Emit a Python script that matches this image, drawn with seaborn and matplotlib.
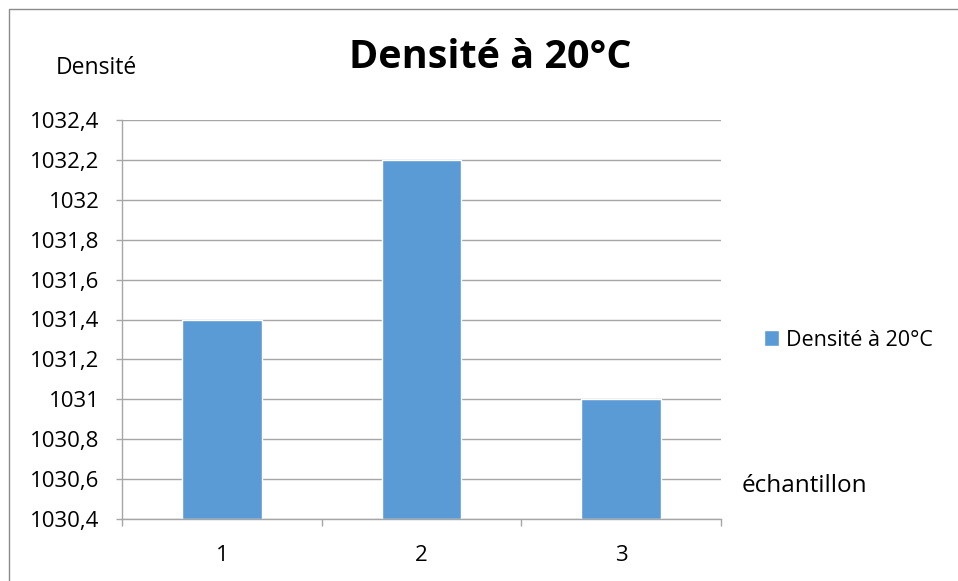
import matplotlib
matplotlib.use("Agg")
import matplotlib.pyplot as plt
import seaborn as sns
import pandas as pd
from matplotlib.ticker import FixedLocator, FuncFormatter
from matplotlib.lines import Line2D

echantillons = ["1", "2", "3"]
densites = [1031.4, 1032.2, 1031.0]
y_ticks = [1030.4, 1030.6, 1030.8, 1031.0, 1031.2, 1031.4, 1031.6, 1031.8, 1032.0, 1032.2, 1032.4]

sns.set_theme(style="white")
plt.rcParams['font.family'] = ['Open Sans', 'DejaVu Sans']
plt.rcParams['text.color'] = 'black'

df = pd.DataFrame({"échantillon": echantillons, "Densité à 20°C": densites})

fig = plt.figure(figsize=(9.58, 5.81), dpi=100)
# outer chart border (only top and left edges visible in the reference)
fig.lines.append(Line2D([9/958, 9/958, 1.0], [0.0, 1 - 8.5/581, 1 - 8.5/581],
                        transform=fig.transFigure, color="#8C8C8C", linewidth=1))
ax = fig.add_axes([122/958, 1 - 519/581, 599/958, 399/581])

sns.barplot(data=df, x="échantillon", y="Densité à 20°C", color="#5B9BD5",
            width=0.4, ax=ax, saturation=1, label="Densité à 20°C")

ax.set_ylim(1030.4, 1032.4)
ax.set_xlim(-0.5, 2.5)
for p, v in zip(ax.patches, densites):
    p.set_y(1030.4)
    p.set_height(v - 1030.4)

ax.yaxis.set_major_locator(FixedLocator(y_ticks))
def fmt(v, pos):
    s = f"{v:.1f}"
    if s.endswith(".0"):
        s = s[:-2]
    return s.replace(".", ",")
ax.yaxis.set_major_formatter(FuncFormatter(fmt))
ax.yaxis.grid(True, color="#A6A6A6", linewidth=1)
ax.set_axisbelow(True)

ax.set_xticks([0, 1, 2])
ax.set_xticklabels(echantillons)
ax.set_xticks([-0.5, 0.5, 1.5, 2.5], minor=True)
ax.tick_params(axis="x", which="major", length=0, pad=19, labelsize=16, colors="black")
ax.tick_params(axis="x", which="minor", length=5, color="#A6A6A6", width=1, direction="out", bottom=True)
ax.tick_params(axis="y", length=4, color="#A6A6A6", width=1, direction="out", left=True, labelsize=16, pad=12, colors="black")

for s in ["top", "right"]:
    ax.spines[s].set_visible(False)
for s in ["left", "bottom"]:
    ax.spines[s].set_color("#A6A6A6")
    ax.spines[s].set_linewidth(1)

ax.set_xlabel("")
ax.set_ylabel("")

fig.text(96/958, 1 - 68/581, "Densité", fontsize=16.5, ha="center", va="center")
fig.text(490/958, 1 - 58/581, "Densité à 20°C", fontsize=28.5, fontweight="bold", ha="center", va="center")
fig.text(742/958, 1 - 486/581, "échantillon", fontsize=17.5, ha="left", va="center")

leg = ax.legend(loc="center left", bbox_to_anchor=(764/958, 1 - 340/581), bbox_transform=fig.transFigure,
                frameon=False, fontsize=15.5, handlelength=0.7, handleheight=0.7, handletextpad=0.3,
                borderpad=0, borderaxespad=0)

fig.savefig("out.png", dpi=100)
